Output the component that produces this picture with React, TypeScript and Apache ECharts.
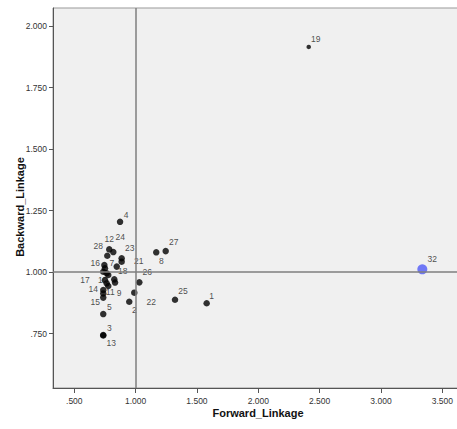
import React, { useEffect, useRef } from "react";
import * as echarts from "echarts";

// ---- data ----
const ids = [1, 2, 3, 4, 5, 6, 7, 8, 9, 10, 11, 12, 13, 14, 15, 16, 17, 18, 19, 20, 21, 22, 23, 24, 25, 26, 27, 28, 29, 30, 31, 32];
const forwardLinkage = [1.579, 0.948, 0.736, 0.873, 0.736, 0.736, 0.750, 1.168, 0.832, 0.764, 0.736, 0.785, 0.736, 0.736, 0.736, 0.745, 0.750, 0.846, 2.411, 0.764, 0.886, 0.989, 0.886, 0.818, 1.321, 1.030, 1.245, 0.769, 0.777, 0.826, 0.777, 3.337];
const backwardLinkage = [0.873, 0.879, 0.744, 1.204, 0.829, 1.001, 1.015, 1.080, 0.957, 0.954, 0.913, 1.092, 0.742, 0.927, 0.896, 1.028, 0.967, 1.022, 1.915, 0.995, 1.042, 0.916, 1.056, 1.081, 0.887, 0.958, 1.085, 1.066, 0.988, 0.970, 0.943, 1.011];
const xTicks = [0.5, 1.0, 1.5, 2.0, 2.5, 3.0, 3.5];
const yTicks = [0.75, 1.0, 1.25, 1.5, 1.75, 2.0];
const referenceX = 1.0;
const referenceY = 1.0;
const xTitle = "Forward_Linkage";
const yTitle = "Backward_Linkage";

// ---- styling (label offsets in px, sizes, colours) ----
const labelOffsets: Record<number, [number, number]> = {
  1: [5, -7], 2: [5, 8], 3: [6, -7], 4: [6, -7], 5: [6, -7], 7: [7, -5], 8: [5, 9],
  9: [4, 10], 10: [-4, -3], 11: [7, -1], 12: [0, -10], 13: [8, 8], 14: [-10, -1],
  15: [-8, 4], 16: [-9, -2], 17: [-20, 0], 18: [6, 4], 19: [7, -8], 21: [17, -1],
  22: [17, 9], 23: [8, -10], 24: [7, -15], 25: [8, -9], 26: [8, -10], 27: [8, -9],
  28: [-9, -10], 32: [10, -10],
};
const symbolSizes: Record<number, number> = { 19: 4.5, 32: 10 };
const symbolColors: Record<number, string> = { 32: "#505AF8" };

const fmt = (v: number) => {
  const s = v.toFixed(3);
  return s.startsWith("0") ? s.slice(1) : s;
};

const FONT = "Arial, 'Liberation Sans', sans-serif";

export default function App() {
  const ref = useRef<HTMLDivElement>(null);
  useEffect(() => {
    if (!ref.current) return;
    const chart = echarts.init(ref.current, undefined, { renderer: "svg" });
    const data = ids.map((id, i) => {
      const off = labelOffsets[id];
      return {
        value: [forwardLinkage[i], backwardLinkage[i]],
        name: String(id),
        symbolSize: symbolSizes[id] ?? 6.5,
        itemStyle: { color: symbolColors[id] ?? "#000000" },
        label: off
          ? {
              show: true,
              position: "inside",
              offset: off,
              color: "#222222",
              textBorderWidth: 0,
              textBorderColor: "transparent",
            }
          : { show: false },
      };
    });
    chart.setOption({
      animation: false,
      backgroundColor: "#ffffff",
      textStyle: { fontFamily: FONT },
      grid: {
        left: 53,
        right: -2,
        top: 8,
        bottom: 41,
        show: true,
        backgroundColor: "#F0F0F0",
        borderColor: "#999999",
        borderWidth: 1,
        containLabel: false,
        outerBoundsMode: "none",
      },
      xAxis: {
        type: "value",
        min: 0.3264,
        max: 3.636,
        axisLine: { show: true, lineStyle: { color: "#555555", width: 1 } },
        axisTick: { show: true, length: 5, customValues: xTicks, lineStyle: { color: "#555555" } },
        axisLabel: {
          customValues: xTicks,
          formatter: (v: number) => fmt(v),
          fontSize: 8.5,
          color: "#333333",
          margin: 8,
        },
        splitLine: { show: false },
      },
      yAxis: {
        type: "value",
        min: 0.5285,
        max: 2.0732,
        axisLine: { show: true, lineStyle: { color: "#555555", width: 1 } },
        axisTick: { show: true, length: 4, customValues: yTicks, lineStyle: { color: "#555555" } },
        axisLabel: {
          customValues: yTicks,
          formatter: (v: number) => fmt(v),
          fontSize: 8.5,
          color: "#333333",
          margin: 6,
        },
        splitLine: { show: false },
      },
      graphic: [
        {
          type: "text",
          x: 258,
          y: 413,
          style: {
            text: xTitle,
            fontSize: 11,
            fontWeight: "bold",
            fill: "#111111",
            align: "center",
            verticalAlign: "middle",
            fontFamily: FONT,
          },
        },
        {
          type: "text",
          x: 20,
          y: 207,
          rotation: Math.PI / 2,
          style: {
            text: yTitle,
            fontSize: 11,
            fontWeight: "bold",
            fill: "#111111",
            align: "center",
            verticalAlign: "middle",
            fontFamily: FONT,
          },
        },
      ],
      series: [
        {
          type: "line",
          data: [],
          z: 1,
          silent: true,
          markLine: {
            silent: true,
            symbol: ["none", "none"],
            label: { show: false },
            lineStyle: { color: "#7F7F7F", width: 1.5, type: "solid" },
            data: [{ xAxis: referenceX }, { yAxis: referenceY }],
          },
        },
        {
          type: "scatter",
          z: 3,
          data,
          label: {
            show: true,
            formatter: "{b}",
            fontSize: 8.5,
            color: "#222222",
            align: "center",
            verticalAlign: "middle",
          },
        },
      ],
    });
    return () => chart.dispose();
  }, []);
  return (
    <div
      ref={ref}
      style={{ position: "fixed", left: 0, top: 0, width: 457, height: 429 }}
    />
  );
}
